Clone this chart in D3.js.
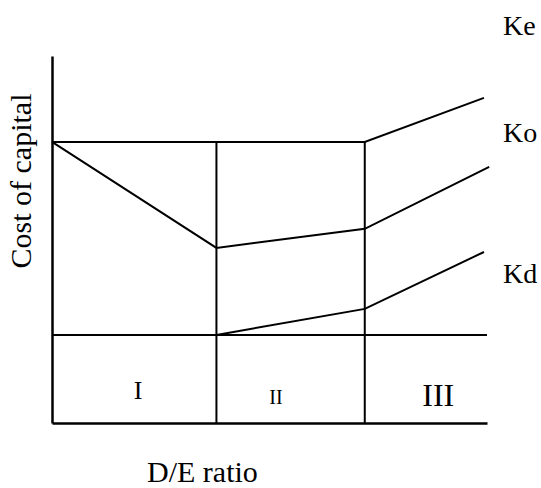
<!DOCTYPE html>
<html>
<head>
<meta charset="utf-8">
<script src="https://cdn.jsdelivr.net/npm/d3@7"></script>
<style>
    body { margin: 0; background: #fff; }
    svg text { font-family: "Liberation Serif", "Times New Roman", serif; fill: #000; }
</style>
</head>
<body>
<div id="chart"></div>
<script>
// D/E ratio on x (0..100), cost of capital on y (0..100), both unitless
var regions = ["I", "II", "III"];
var regionEdges = [0, 37.8, 71.9, 100];
var regionLabelX = [19.8, 51.5, 88.8];
var regionLabelY = [6.5, 5.2, 4.6];

var seriesNames = ["Ke", "Ko", "Kd"];
var keX = [0, 71.9, 99.3];
var keY = [76.6, 76.6, 88.6];
var koX = [0, 37.8, 71.9, 100.5];
var koY = [76.6, 47.7, 52.9, 69.8];
var kdX = [0, 37.8, 71.9, 99.3];
var kdY = [24.0, 24.0, 31.1, 46.6];
var kdBase = 24.0;
var seriesLabelY = [105.7, 76.6, 38.1];

var HpbChart = (function() {
    var my = {};

    my.draw = function(divEl) {
        var margin = {top: 56, right: 54, bottom: 65, left: 52},
            width = 541 - margin.left - margin.right,
            height = 488 - margin.top - margin.bottom;

        var x = d3.scaleLinear().domain([0, 100]).range([0, width]);
        var y = d3.scaleLinear().domain([0, 100]).range([height, 0]);

        var svg = d3.select("#" + divEl).append("svg")
            .attr("width", width + margin.left + margin.right)
            .attr("height", height + margin.top + margin.bottom)
            .append("g")
            .attr("transform", "translate(" + margin.left + "," + margin.top + ")");

        var line = d3.line()
            .x(function(d) { return x(d[0]); })
            .y(function(d) { return y(d[1]); });

        function pts(xs, ys) {
            return xs.map(function(v, i) { return [v, ys[i]]; });
        }

        // base line at Kd level across the whole width
        svg.append("path")
            .attr("d", line([[0, kdBase], [100, kdBase]]))
            .attr("fill", "none")
            .attr("stroke", "#000")
            .attr("stroke-width", 2);

        // region dividers, from the Ke line down to the axis
        svg.selectAll(".divider")
            .data(regionEdges.slice(1, 3))
            .enter().append("line")
            .attr("class", "divider")
            .attr("x1", function(d) { return x(d); })
            .attr("x2", function(d) { return x(d); })
            .attr("y1", y(keY[0]))
            .attr("y2", y(0))
            .attr("stroke", "#000")
            .attr("stroke-width", 2);

        var series = [pts(keX, keY), pts(koX, koY), pts(kdX, kdY)];
        svg.selectAll(".curve")
            .data(series)
            .enter().append("path")
            .attr("class", "curve")
            .attr("d", line)
            .attr("fill", "none")
            .attr("stroke", "#000")
            .attr("stroke-width", 2);

        // axes (plain lines, no ticks)
        svg.append("g")
            .attr("transform", "translate(0," + height + ")")
            .call(d3.axisBottom(x).tickValues([]).tickSizeOuter(0))
            .select(".domain")
            .attr("stroke", "#000")
            .attr("stroke-width", 2.5);

        svg.append("g")
            .call(d3.axisLeft(y).tickValues([]).tickSizeOuter(0))
            .select(".domain")
            .attr("stroke", "#000")
            .attr("stroke-width", 2.5);

        var regionFont = [26, 20, 32];
        svg.selectAll(".region")
            .data(regions)
            .enter().append("text")
            .attr("class", "region")
            .attr("x", function(d, i) { return x(regionLabelX[i]); })
            .attr("y", function(d, i) { return y(regionLabelY[i]); })
            .style("font-size", function(d, i) { return regionFont[i] + "px"; })
            .style("text-anchor", "middle")
            .text(function(d) { return d; });

        svg.selectAll(".series-label")
            .data(seriesNames)
            .enter().append("text")
            .attr("class", "series-label")
            .attr("x", x(103.7))
            .attr("y", function(d, i) { return y(seriesLabelY[i]); })
            .style("font-size", "28px")
            .text(function(d) { return d; });

        svg.append("text")
            .attr("x", 95)
            .attr("y", height + 59)
            .style("font-size", "30px")
            .text("D/E ratio");

        svg.append("text")
            .attr("transform", "translate(-21," + (181 - margin.top) + ") rotate(-90)")
            .style("text-anchor", "middle")
            .style("font-size", "30px")
            .text("Cost of capital");
    };
    return my;
}());

HpbChart.draw("chart");
</script>
</body>
</html>
